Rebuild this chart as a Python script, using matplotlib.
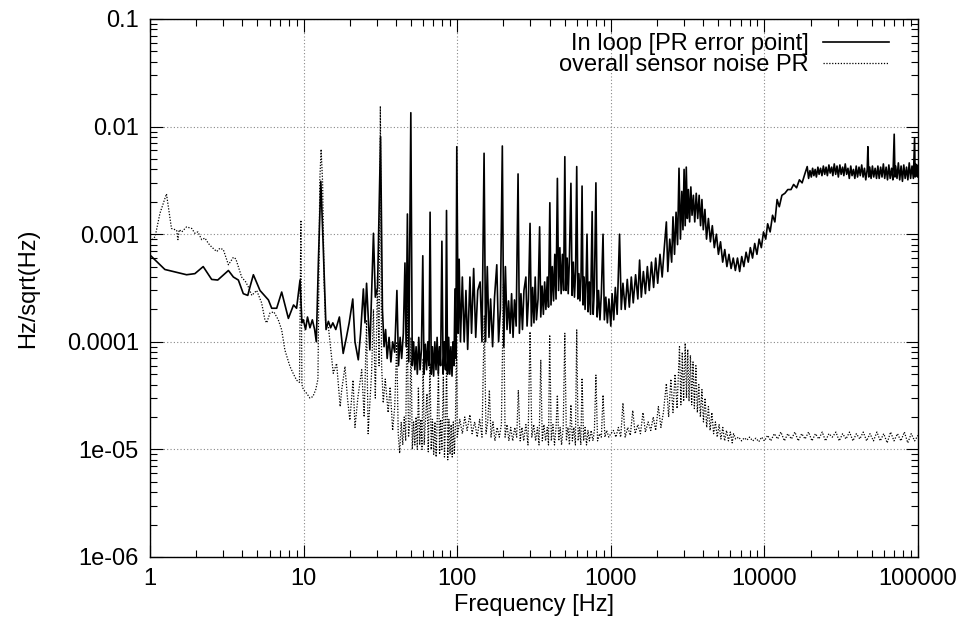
import numpy as np
import matplotlib
matplotlib.use('Agg')
import matplotlib.pyplot as plt
from matplotlib.ticker import LogLocator, NullFormatter

plt.rcParams['font.family'] = ['Liberation Sans', 'DejaVu Sans']

# ---- In loop [PR error point] ----
loop_f = [
    1.0, 1.25, 1.73, 1.96, 2.22, 2.52, 2.76, 3.24, 3.49, 3.76, 4.05, 4.33, 4.48, 4.71, 5.2, 5.9,
    6.2, 6.68, 7.2, 7.96, 8.6, 9.0, 9.48, 9.75,
    9.96, 10.3, 10.6, 11.0, 11.4, 11.8, 12.1, 12.5, 12.95, 13.4, 14.0, 14.5, 15.0, 15.5, 16.2,
    17.1, 18.1, 19.0, 19.8, 20.9, 21.6, 22.7, 23.5, 24.5, 25.1, 25.7, 27.0, 28.5, 29.3, 30.3,
    31.7, 32.6, 33.4, 34.2, 35.0, 36.0, 37.0, 38.0, 39.2, 40.5, 41.5, 42.5, 43.5, 44.6, 45.7,
    46.5, 47.4, 48.4, 49.9, 51.0, 52.0, 53.0, 54.0, 55.0, 56.2, 57.3, 58.5, 59.7, 60.8, 62.0,
    63.2, 64.3, 65.5, 66.6, 67.8, 69.0, 70.2, 71.5, 72.8, 74.0, 75.3, 76.6, 78.0, 79.5, 81.0,
    82.5, 84.0, 85.2, 86.5, 88.0, 89.5, 91.0, 92.5, 94.0, 95.3, 96.7, 98.0, 99.4, 101.5, 103,
    105, 108, 111, 114, 117, 121, 124, 128, 132, 136, 141, 145, 149.6, 153, 157, 161, 165, 170,
    175, 181, 186, 191, 196.7, 201, 206, 211, 216, 221, 226, 231, 236, 242, 249, 254, 260, 266,
    272, 280, 285, 291, 298, 304, 310, 316, 322, 328, 336, 344, 350, 357, 364, 371, 378, 386,
    393, 401, 408, 416, 424, 432, 440, 449, 457, 466, 475, 484, 493, 502, 511, 520, 528, 537,
    550, 560, 570, 580, 590, 600, 610, 620, 630, 640, 650, 660, 670, 680, 690, 700, 712, 725,
    738, 756, 768, 782, 800, 815, 832, 850, 868, 890, 908, 928, 950, 972, 1000,
    1020, 1045, 1070, 1100, 1140, 1170, 1200, 1240, 1280, 1320, 1360, 1400, 1450, 1500, 1540,
    1580, 1630, 1680, 1730, 1780, 1840, 1900, 1960, 2020, 2090, 2160, 2230, 2300, 2350, 2420,
    2490, 2540, 2600, 2660, 2720, 2780, 2840, 2900, 2950, 3000, 3050, 3100, 3150, 3200, 3260,
    3320, 3380, 3450, 3520, 3600, 3680, 3760, 3840, 3920, 4000, 4100, 4200, 4320, 4450, 4580,
    4720, 4870, 5020, 5180, 5350, 5520, 5700, 5880, 6070, 6270, 6470, 6680, 6900, 7120, 7350,
    7600, 7850, 8100, 8370, 8650, 8940, 9240, 9550, 9870,
    10200, 10500, 10900, 11300, 11700, 12100, 12500, 13000, 13600, 14200, 14900, 15500, 16200,
    16900, 17600, 18300,
    19000, 19400, 19800, 20200, 20600, 21000, 21400, 21800, 22300, 22700, 23200, 23700, 24200,
    24700, 25200, 25700, 26300, 26800, 27400, 27900, 28500, 29100, 29700, 30300, 31000, 31600,
    32300, 32900, 33600, 34300, 35000, 35700, 36500, 37200, 38000, 38800, 39600, 40400, 41300,
    42100, 43000, 43900, 44800, 45700, 46700, 47200, 47800, 48500, 49500, 50500, 51500, 52600,
    53700, 54800, 55900, 57100, 58300, 59500, 60700, 62000, 63300, 64600, 65900, 67300, 68600,
    70000, 70800, 71500, 73000, 74500, 76000, 77600, 79200, 80800, 82500, 84200, 85900, 87700,
    89500, 91400, 93300, 95000, 95800, 96500, 97500, 98500, 99300, 100000,
]
loop_v = [
    6.4e-4, 4.7e-4, 4.2e-4, 4.3e-4, 5.0e-4, 3.8e-4, 3.75e-4, 4.6e-4, 4.0e-4, 3.75e-4, 2.8e-4,
    2.7e-4, 3.25e-4, 4.2e-4, 3.0e-4, 2.45e-4, 2.05e-4, 2.05e-4, 2.9e-4, 1.65e-4, 2.2e-4,
    2.05e-4, 3.75e-4, 1.5e-4,
    1.6e-4, 1.3e-4, 1.7e-4, 1.35e-4, 1.6e-4, 1.3e-4, 1.0e-4, 6.0e-4, 3.1e-3, 8.2e-4, 1.3e-4,
    1.55e-4, 1.35e-4, 1.5e-4, 1.3e-4, 1.7e-4, 7.8e-5, 1.1e-4, 1.5e-4, 2.5e-4, 1.0e-4, 6.8e-5,
    1.2e-4, 3.1e-4, 1.5e-4, 3.5e-4, 8.4e-5, 1.02e-3, 2.6e-4, 3.2e-4, 8.05e-3, 2.0e-4, 9e-5,
    1.3e-4, 7e-5, 1.1e-4, 6.5e-5, 1.0e-4, 8e-5, 3.0e-4, 6e-5, 1.1e-4, 7e-5, 1.2e-4, 5.4e-4,
    9e-5, 1.54e-3, 6.5e-5, 1.345e-2, 6e-5, 1.0e-4, 5.5e-5, 9e-5, 5e-5, 1.1e-4, 5.5e-5, 8.5e-5,
    6.3e-4, 5e-5, 9.5e-5, 5.5e-5, 1.0e-4, 6e-5, 1.6e-3, 5e-5, 9e-5, 4.8e-5, 1.0e-4, 5.5e-5,
    1.1e-4, 5e-5, 9e-5, 6e-5, 8.6e-4, 5e-5, 1.0e-4, 5.5e-5, 1.66e-3, 5e-5, 1.1e-4, 5e-5, 9e-5,
    4.8e-5, 1.0e-4, 6e-5, 3.1e-4, 7e-5, 6.5e-3, 1.2e-4, 5.85e-4,
    1.0e-4, 4.0e-4, 1.0e-4, 3.0e-4, 8.5e-5, 4.0e-4, 1.2e-4, 4.8e-4, 1.1e-4, 3.0e-4, 3.6e-4,
    1.0e-4, 5.65e-3, 1.0e-4, 5.0e-4, 1.1e-4, 2.5e-4, 9e-5, 2.6e-4, 5.2e-4, 1.0e-4, 2.0e-4,
    6.6e-3, 9e-5, 5.0e-4, 1.3e-4, 2.4e-4, 1.2e-4, 2.8e-4, 1.1e-4, 2.45e-4, 1.4e-4, 3.63e-3,
    1.2e-4, 2.8e-4, 1.3e-4, 3.0e-4, 4.0e-4, 1.4e-4, 2.5e-4, 1.26e-3, 1.4e-4, 3.2e-4, 1.5e-4,
    4.0e-4, 1.6e-4, 2.5e-4, 1.17e-3, 1.7e-4, 3.3e-4, 1.8e-4, 3.6e-4, 2.0e-4, 4.0e-4, 2.1e-4,
    1.96e-3, 2.2e-4, 5.0e-4, 2.4e-4, 6.5e-4, 2.5e-4, 3.3e-3, 3.0e-4, 7.5e-4, 2.8e-4, 6.5e-4,
    3.0e-4, 5.25e-3, 3.0e-4, 6.0e-4, 2.8e-4, 5.5e-4, 2.97e-3, 2.7e-4, 5.5e-4, 2.6e-4, 4.5e-4,
    4.25e-3, 2.5e-4, 4.3e-4, 2.4e-4, 4.0e-4, 2.8e-3, 2.2e-4, 4.0e-4, 2.0e-4, 3.5e-4, 1.0e-3,
    1.9e-4, 3.6e-4, 1.8e-4, 1.62e-3, 1.8e-4, 3.2e-4, 3.0e-3, 1.7e-4, 3.0e-4, 1.6e-4, 2.8e-4,
    1.0e-3, 1.6e-4, 2.6e-4, 1.5e-4, 2.5e-4, 1.4e-4,
    2.8e-4, 1.6e-4, 3.2e-4, 1.8e-4, 1.0e-3, 2.0e-4, 3.5e-4, 2.0e-4, 3.8e-4, 2.1e-4, 4.0e-4,
    2.3e-4, 4.2e-4, 2.5e-4, 5.75e-4, 2.6e-4, 4.5e-4, 2.8e-4, 5.0e-4, 3.0e-4, 5.5e-4, 3.2e-4,
    6.0e-4, 3.5e-4, 6.5e-4, 4.0e-4, 7.5e-4, 1.3e-3, 4.5e-4, 9e-4, 5.5e-4, 1.45e-3, 6.5e-4,
    1.6e-3, 8e-4, 4.1e-3, 9e-4, 2.5e-3, 1.1e-3, 4.0e-3, 1.2e-3, 4.2e-3, 1.4e-3, 2.6e-3, 1.3e-3,
    2.75e-3, 1.5e-3, 2.3e-3, 1.3e-3, 2.4e-3, 1.4e-3, 2.3e-3, 1.2e-3, 2.1e-3, 1.1e-3, 1.7e-3,
    9e-4, 1.4e-3, 8.5e-4, 1.2e-3, 7.5e-4, 1.0e-3, 6.5e-4, 8.5e-4, 5.5e-4, 7.2e-4, 5.0e-4,
    6.5e-4, 4.8e-4, 6.0e-4, 4.6e-4, 6.0e-4, 4.5e-4, 6.2e-4, 5.0e-4, 6.8e-4, 5.5e-4, 7.5e-4,
    6.0e-4, 8.2e-4, 6.5e-4, 9.0e-4, 7.5e-4, 1.05e-3,
    9e-4, 1.25e-3, 1.05e-3, 1.5e-3, 1.3e-3, 2.1e-3, 1.8e-3, 2.3e-3, 2.4e-3, 2.6e-3, 2.6e-3,
    2.9e-3, 2.7e-3, 3.2e-3, 3.0e-3, 3.6e-3,
    4.25e-3, 3.3e-3, 3.9e-3, 3.4e-3, 4.1e-3, 3.5e-3, 4.0e-3, 3.4e-3, 4.2e-3, 3.6e-3, 4.1e-3,
    3.5e-3, 4.3e-3, 3.6e-3, 4.2e-3, 3.5e-3, 4.4e-3, 3.7e-3, 4.2e-3, 3.5e-3, 4.5e-3, 3.6e-3,
    4.3e-3, 3.4e-3, 4.4e-3, 3.6e-3, 4.2e-3, 3.5e-3, 4.5e-3, 3.6e-3, 4.1e-3, 3.3e-3, 4.3e-3,
    3.5e-3, 4.0e-3, 3.3e-3, 4.3e-3, 3.4e-3, 4.2e-3, 3.5e-3, 4.4e-3, 3.4e-3, 4.1e-3, 3.2e-3,
    4.0e-3, 6.5e-3, 3.4e-3, 4.2e-3, 3.3e-3, 4.3e-3, 3.4e-3, 4.1e-3, 3.3e-3, 4.3e-3, 3.3e-3,
    4.2e-3, 3.4e-3, 4.5e-3, 3.3e-3, 4.2e-3, 3.2e-3, 4.4e-3, 3.3e-3, 4.1e-3, 3.2e-3, 8.5e-3,
    3.4e-3, 4.3e-3, 3.3e-3, 4.6e-3, 3.2e-3, 4.3e-3, 3.1e-3, 4.4e-3, 3.3e-3, 4.2e-3, 3.2e-3,
    4.6e-3, 3.3e-3, 4.3e-3, 3.3e-3, 7.8e-3, 3.4e-3, 4.5e-3, 3.5e-3, 4.4e-3, 3.4e-3, 3.9e-3,
]

# ---- overall sensor noise PR ----
noise_f = [
    1.0, 1.08, 1.16, 1.28, 1.38, 1.49, 1.52, 1.55, 1.61, 1.73, 1.87, 1.96, 2.05, 2.17, 2.28,
    2.4, 2.52, 2.72, 2.85, 3.0, 3.24, 3.49, 3.62, 3.95, 4.2, 4.36, 4.6, 4.95, 5.33, 5.6, 5.75,
    6.04, 6.4, 6.84, 7.2, 7.55, 8.15, 8.6, 9.0, 9.4, 9.6, 9.75, 9.96, 10.5, 11.0, 11.5, 12.0,
    12.4, 12.75, 13.0, 13.3, 13.6, 13.9, 14.5, 15.2, 15.6, 16.4, 17.3, 17.7, 18.6, 19.3, 20.0,
    21.0, 21.6, 22.6, 23.9, 24.8, 25.7, 26.3, 27.7, 28.5, 29.3, 30.3, 31.0, 31.6, 32.2, 33.0,
    34.0, 35.5, 36.6, 38.0, 39.2, 40.4, 41.3, 42.2, 43.2, 44.2, 45.2, 46.2, 47.2, 48.2, 49.2,
    50.0, 51.0, 52.0, 53.0, 54.0, 55.0, 55.9, 57.0, 58.0, 59.0, 60.0, 61.0, 62.3, 63.6, 64.8,
    66.5, 67.7, 69.0, 70.3, 71.6, 72.9, 74.2, 75.5, 76.8, 78.0, 79.5, 81.2, 82.6, 84.0, 85.3,
    86.8, 88.3, 89.8, 91.3, 92.8, 94.3, 95.8, 97.3, 99.0, 100,
    104, 108, 112, 116, 121, 125, 130, 135, 140, 145, 150, 154, 158, 162, 166, 171, 176, 182,
    188, 194, 200, 205, 211, 217, 223, 230, 237, 244, 250, 257, 264, 271, 280, 289, 298, 306,
    315, 324, 333, 341, 350, 358, 367, 376, 386, 393, 400, 410, 420, 430, 440, 449, 458, 468,
    478, 490, 502, 514, 526, 538, 550, 562, 575, 588, 600, 613, 626, 638, 650, 665, 680, 695,
    710, 725, 745, 765, 782, 800, 820, 845, 868, 890, 915, 940, 970, 1000,
    1040, 1080, 1120, 1160, 1200, 1240, 1290, 1340, 1390, 1440, 1500, 1560, 1620, 1680, 1750,
    1820, 1890, 1960, 2040, 2120, 2200, 2300, 2380, 2460, 2540, 2620, 2700, 2800, 2860, 2920,
    2980, 3050, 3110, 3170, 3230, 3300, 3360, 3430, 3500, 3580, 3660, 3740, 3830, 3920, 4010,
    4110, 4210, 4320, 4430, 4550, 4670, 4800, 4930, 5070, 5210, 5360, 5510, 5670, 5830, 6000,
    6170, 6300, 6500, 6800, 7100, 7400, 7700, 8000, 8400, 8800, 9200, 9600, 10000,
    10500, 11000, 11600, 12200, 12800, 13500, 14200, 15000, 15800, 16600, 17500, 18400, 19400,
    20400, 21500, 22600, 23800, 25000, 26300, 27700, 29200, 30700, 32300, 34000, 35800, 37700,
    39700, 41800, 44000, 46300, 48700, 51300, 54000, 56800, 59800, 63000, 66300, 69800, 73500,
    77400, 81500, 85800, 90300, 95100, 100000,
]
noise_v = [
    8.5e-4, 9.5e-4, 1.56e-3, 2.37e-3, 1.13e-3, 1.09e-3, 8.9e-4, 1.1e-3, 1.05e-3, 1.17e-3,
    1.13e-3, 1.02e-3, 1.05e-3, 8.9e-4, 9.2e-4, 8.2e-4, 7.6e-4, 6.9e-4, 7.4e-4, 7.2e-4, 5.2e-4,
    6.1e-4, 5.9e-4, 4.0e-4, 3.6e-4, 3.25e-4, 2.7e-4, 3.0e-4, 2.3e-4, 1.6e-4, 1.5e-4, 1.85e-4,
    1.9e-4, 1.6e-4, 1.29e-4, 8.4e-5, 5.9e-5, 5.0e-5, 4.4e-5, 4.2e-5, 1.35e-3, 4.0e-5, 3.6e-5,
    3.3e-5, 3.0e-5, 3.1e-5, 3.6e-5, 4.5e-5, 3.2e-3, 6.15e-3, 3.0e-3, 3.5e-4, 1.5e-4, 1.38e-4,
    7.3e-5, 5.1e-5, 6.3e-5, 2.5e-5, 3.56e-5, 5.9e-5, 3.0e-5, 1.87e-5, 4.4e-5, 1.6e-5, 3.1e-5,
    5.5e-5, 2.0e-5, 1.6e-4, 1.4e-5, 5.1e-5, 2.0e-4, 3.0e-5, 4.0e-4, 6e-5, 1.55e-2, 6e-5,
    2.7e-5, 4.5e-5, 2.2e-5, 3.8e-5, 1.5e-5, 2.5e-5, 1.0e-4, 1.4e-5, 9.2e-6, 1.8e-5, 1.1e-5,
    2.0e-5, 1.2e-5, 2.2e-4, 1.3e-5, 1.8e-5, 1.1e-4, 1.0e-5, 1.8e-5, 1.1e-5, 2.0e-5, 1.0e-5,
    3.8e-5, 1.1e-5, 1.9e-5, 1.0e-5, 7e-5, 1.1e-5, 2.0e-5, 3.3e-5, 9.5e-6, 6.3e-5, 1.0e-5,
    1.9e-5, 9e-6, 1.8e-5, 8.5e-6, 2.0e-5, 5.5e-5, 9e-6, 1.9e-5, 1.0e-5, 4.7e-5, 8.5e-6,
    1.8e-5, 6.3e-5, 8e-6, 1.9e-5, 9e-6, 1.7e-5, 8.5e-6, 1.8e-5, 9e-6, 1.6e-5, 1.29e-4, 1.3e-5,
    1.9e-5, 1.4e-5, 2.0e-5, 1.5e-5, 2.1e-5, 1.4e-5, 1.8e-5, 1.3e-5, 1.9e-5, 1.3e-5, 1.74e-4,
    1.4e-5, 1.8e-5, 3.56e-5, 1.3e-5, 1.8e-5, 1.2e-5, 1.6e-5, 1.3e-5, 1.7e-5, 3.4e-4, 1.3e-5,
    1.7e-5, 1.2e-5, 1.6e-5, 1.2e-5, 1.6e-5, 1.3e-5, 3.56e-5, 1.2e-5, 1.6e-5, 1.2e-5, 1.7e-5,
    1.1e-5, 1.24e-4, 1.3e-5, 1.7e-5, 1.2e-5, 1.6e-5, 1.1e-5, 6.8e-5, 1.2e-5, 1.7e-5, 1.2e-5,
    1.6e-5, 1.1e-5, 1.16e-4, 1.2e-5, 1.7e-5, 1.1e-5, 1.6e-5, 3.2e-5, 1.2e-5, 1.6e-5, 1.1e-5,
    1.6e-5, 1.2e-4, 1.2e-5, 1.6e-5, 1.1e-5, 2.6e-5, 1.2e-5, 1.6e-5, 1.1e-5, 1.29e-4, 1.2e-5,
    1.6e-5, 1.1e-5, 4.6e-5, 1.2e-5, 1.6e-5, 1.1e-5, 1.5e-5, 1.2e-5, 1.5e-5, 1.2e-5, 1.5e-5,
    4.9e-5, 1.2e-5, 1.4e-5, 1.3e-5, 3.2e-5, 1.3e-5, 1.5e-5, 1.3e-5, 1.4e-5,
    1.5e-5, 1.3e-5, 1.6e-5, 1.3e-5, 2.7e-5, 1.3e-5, 1.6e-5, 1.35e-5, 2.3e-5, 1.4e-5, 1.7e-5,
    1.4e-5, 2.2e-5, 1.45e-5, 1.8e-5, 1.5e-5, 2.0e-5, 1.5e-5, 2.5e-5, 1.6e-5, 2.2e-5, 4.1e-5,
    2.0e-5, 4.5e-5, 2.2e-5, 5.0e-5, 2.4e-5, 9e-5, 2.6e-5, 8e-5, 2.8e-5, 9.7e-5, 3.0e-5,
    8.5e-5, 2.8e-5, 7.5e-5, 2.6e-5, 6.5e-5, 2.4e-5, 6.0e-5, 2.2e-5, 4.0e-5, 2.0e-5, 3.6e-5,
    1.8e-5, 3.0e-5, 1.6e-5, 2.5e-5, 1.5e-5, 2.2e-5, 1.4e-5, 1.8e-5, 1.3e-5, 1.7e-5, 1.25e-5,
    1.6e-5, 1.2e-5, 1.5e-5, 1.2e-5, 1.45e-5, 1.15e-5, 1.4e-5, 1.25e-5, 1.3e-5, 1.2e-5,
    1.28e-5, 1.22e-5, 1.3e-5, 1.2e-5, 1.27e-5, 1.18e-5, 1.3e-5, 1.2e-5,
    1.35e-5, 1.2e-5, 1.4e-5, 1.25e-5, 1.45e-5, 1.2e-5, 1.4e-5, 1.25e-5, 1.45e-5, 1.2e-5,
    1.4e-5, 1.25e-5, 1.45e-5, 1.2e-5, 1.4e-5, 1.25e-5, 1.45e-5, 1.2e-5, 1.4e-5, 1.3e-5,
    1.45e-5, 1.2e-5, 1.4e-5, 1.25e-5, 1.45e-5, 1.2e-5, 1.4e-5, 1.25e-5, 1.45e-5, 1.2e-5,
    1.4e-5, 1.2e-5, 1.45e-5, 1.2e-5, 1.4e-5, 1.15e-5, 1.45e-5, 1.2e-5, 1.4e-5, 1.2e-5,
    1.45e-5, 1.15e-5, 1.4e-5, 1.2e-5, 1.35e-5,
]

series_labels = ['In loop [PR error point]', 'overall sensor noise PR']
xticks = [1, 10, 100, 1000, 10000, 100000]
xtick_labels = ['1', '10', '100', '1000', '10000', '100000']
yticks = [1e-6, 1e-5, 1e-4, 1e-3, 1e-2, 1e-1]
ytick_labels = ['1e-06', '1e-05', '0.0001', '0.001', '0.01', '0.1']

fig = plt.figure(figsize=(9.61, 6.31), dpi=100)
ax = fig.add_axes([150/961, 74/631, 768/961, 538/631])

ax.plot(loop_f, loop_v, color='black', lw=1.2, label=series_labels[0])
ax.plot(noise_f, noise_v, color='black', lw=0.9, linestyle=(0, (1, 1.3)), label=series_labels[1])

ax.set_xscale('log')
ax.set_yscale('log')
ax.set_xlim(1, 1e5)
ax.set_ylim(1e-6, 0.1)

ax.set_xticks(xticks, xtick_labels)
ax.set_yticks(yticks, ytick_labels)
ax.xaxis.set_minor_locator(LogLocator(base=10, subs=np.arange(2, 10), numticks=20))
ax.yaxis.set_minor_locator(LogLocator(base=10, subs=np.arange(2, 10), numticks=20))
ax.xaxis.set_minor_formatter(NullFormatter())
ax.yaxis.set_minor_formatter(NullFormatter())
ax.tick_params(which='both', direction='in', top=True, right=True, labelsize=17, width=0.8)
ax.tick_params(which='major', length=9, pad=8)
ax.tick_params(which='minor', length=5)

ax.grid(True, which='major', color='#888888', linestyle=(0, (1, 2)), lw=0.8)
for s in ax.spines.values():
    s.set_linewidth(1.0)

ax.set_xlabel('Frequency [Hz]', fontsize=17)
ax.set_ylabel('Hz/sqrt(Hz)', fontsize=17)
ax.xaxis.set_label_coords(0.5, -0.068)
ax.yaxis.set_label_coords(-0.145, 0.5)

ax.legend(loc='upper right', bbox_to_anchor=(0.962, 0.974), frameon=False, fontsize=17,
          markerfirst=False, handlelength=2.8, handletextpad=0.6, labelspacing=-0.05,
          borderpad=0, borderaxespad=0)

fig.savefig('out.png', dpi=100)
